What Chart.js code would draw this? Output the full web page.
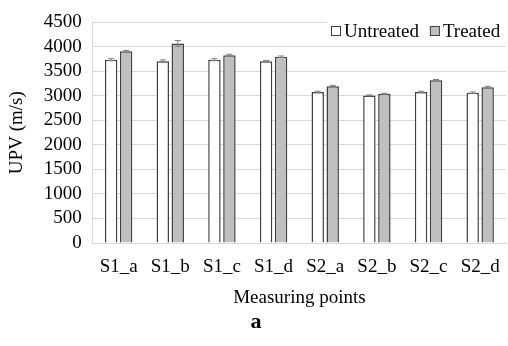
<!DOCTYPE html>
<html>
<head>
<meta charset="utf-8">
<script src="https://cdn.jsdelivr.net/npm/chart.js@4/dist/chart.umd.min.js"></script>
<style>
  html, body { margin: 0; padding: 0; background: #fff; }
  #wrap { width: 508px; height: 346px; }
</style>
</head>
<body>
<div id="wrap"><canvas id="upvChart"></canvas></div>
<script>
const points = ['S1_a', 'S1_b', 'S1_c', 'S1_d', 'S2_a', 'S2_b', 'S2_c', 'S2_d'];
const untreated = [3740, 3710, 3740, 3710, 3080, 3010, 3080, 3065];
const treated = [3910, 4070, 3830, 3800, 3200, 3045, 3320, 3175];
const untreatedErr = [20, 25, 20, 15, 15, 10, 15, 15];
const treatedErr = [20, 60, 20, 15, 15, 10, 15, 20];
const yTicks = [0, 500, 1000, 1500, 2000, 2500, 3000, 3500, 4000, 4500];

const serif = '"Liberation Serif", "Times New Roman", serif';
const fs = 19;

// error bars + legend drawn by hand so the legend can sit inside the plot
const extras = {
  id: 'extras',
  afterDatasetsDraw(chart) {
    const ctx = chart.ctx;
    const y = chart.scales.y;
    ctx.save();
    ctx.strokeStyle = '#7f7f7f';
    ctx.lineWidth = 1;
    chart.data.datasets.forEach((ds, di) => {
      const meta = chart.getDatasetMeta(di);
      meta.data.forEach((bar, i) => {
        const v = ds.data[i], e = ds.err[i];
        const top = y.getPixelForValue(v + e);
        const bot = y.getPixelForValue(v - e);
        ctx.beginPath();
        ctx.moveTo(bar.x, top); ctx.lineTo(bar.x, bot);
        ctx.moveTo(bar.x - 3, top); ctx.lineTo(bar.x + 3, top);
        ctx.moveTo(bar.x - 3, bot); ctx.lineTo(bar.x + 3, bot);
        ctx.stroke();
      });
    });

    // legend box, top right of the plot
    ctx.font = fs + 'px ' + serif;
    ctx.textBaseline = 'middle';
    const ly = 31;
    let x = 331;
    ctx.fillStyle = '#fff';
    ctx.fillRect(x - 4, ly - 11, chart.chartArea.right - x + 4, 22);
    chart.data.datasets.forEach(ds => {
      ctx.fillStyle = ds.backgroundColor;
      ctx.fillRect(x, ly - 5, 10, 10);
      ctx.strokeStyle = '#404040';
      ctx.lineWidth = 1;
      ctx.strokeRect(x + 0.5, ly - 4.5, 9, 9);
      ctx.fillStyle = '#000';
      ctx.fillText(ds.label, x + 13, ly + 1);
      x += 13 + ctx.measureText(ds.label).width + 11;
    });
    ctx.restore();
  }
};

new Chart(document.getElementById('upvChart'), {
  type: 'bar',
  data: {
    labels: points,
    datasets: [
      {
        label: 'Untreated',
        data: untreated,
        err: untreatedErr,
        backgroundColor: '#ffffff',
        borderColor: '#404040',
        borderWidth: 1.5,
        borderSkipped: 'bottom',
        categoryPercentage: 0.58,
        barPercentage: 0.83
      },
      {
        label: 'Treated',
        data: treated,
        err: treatedErr,
        backgroundColor: '#bfbfbf',
        borderColor: '#404040',
        borderWidth: 1.5,
        borderSkipped: 'bottom',
        categoryPercentage: 0.58,
        barPercentage: 0.83
      }
    ]
  },
  options: {
    responsive: true,
    maintainAspectRatio: false,
    animation: false,
    layout: { padding: { top: 0, right: 2, left: 6, bottom: 0 } },
    plugins: {
      legend: { display: false },
      tooltip: { enabled: false },
      title: {
        display: true,
        text: 'a',
        position: 'bottom',
        color: '#000',
        font: { family: serif, size: 22, weight: 'bold' },
        padding: { top: 0, bottom: 10 }
      }
    },
    scales: {
      x: {
        grid: { display: false },
        border: { color: '#d9d9d9' },
        ticks: { color: '#000', font: { family: serif, size: fs }, padding: 5, maxRotation: 0, autoSkip: false },
        title: {
          display: true,
          text: 'Measuring points',
          color: '#000',
          font: { family: serif, size: fs },
          padding: { top: 3, bottom: 0 }
        }
      },
      y: {
        min: 0,
        max: 4500,
        afterBuildTicks: axis => { axis.ticks = yTicks.map(v => ({ value: v })); },
        grid: { color: '#d9d9d9', drawTicks: false },
        border: { color: '#d9d9d9' },
        ticks: {
          color: '#000',
          font: { family: serif, size: fs },
          padding: 11,
          autoSkip: false,
          callback: v => String(v)
        },
        title: {
          display: true,
          text: 'UPV (m/s)',
          color: '#000',
          font: { family: serif, size: fs },
          padding: { top: 0, bottom: 4 }
        }
      }
    }
  },
  plugins: [extras]
});
</script>
</body>
</html>
